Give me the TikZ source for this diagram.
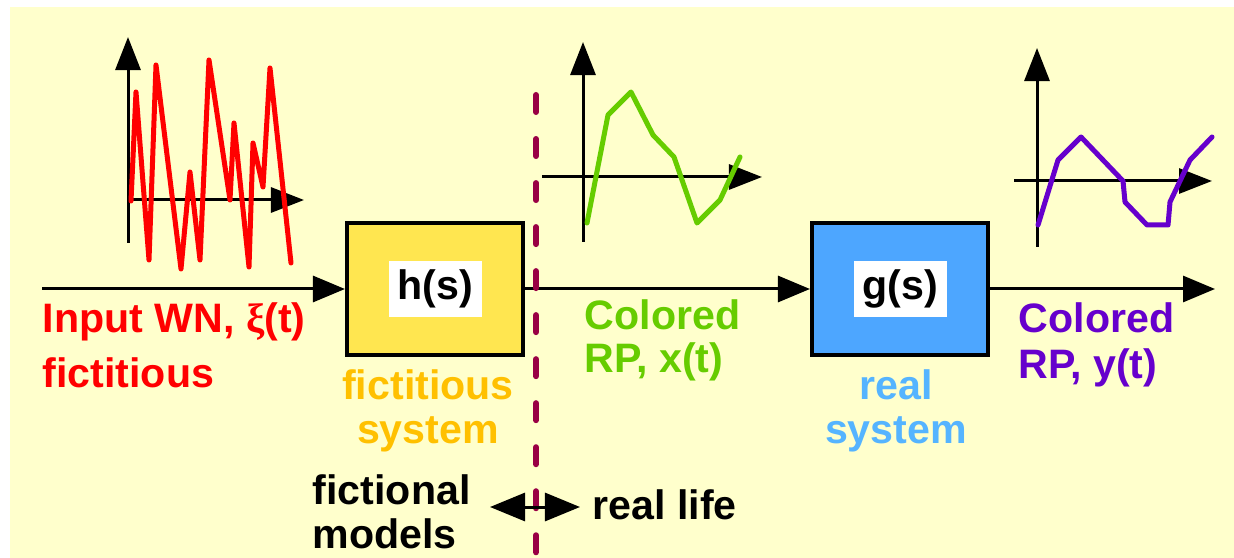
\documentclass[tikz,border=0pt]{standalone}
\usepackage{fontspec}
\setmainfont{Liberation Sans}
\newfontfamily\greekserif{Liberation Serif}
\usepackage{tikz}
\usetikzlibrary{arrows.meta,positioning}
\definecolor{paper}{RGB}{255,255,204}
\definecolor{noisered}{RGB}{255,0,0}
\definecolor{hyellow}{RGB}{255,230,80}
\definecolor{fictorange}{RGB}{255,192,0}
\definecolor{rpgreen}{RGB}{102,204,0}
\definecolor{gblue}{RGB}{77,166,255}
\definecolor{realblue}{RGB}{85,180,255}
\definecolor{rppurple}{RGB}{102,0,204}
\definecolor{cutred}{RGB}{153,0,68}

\begin{document}
\begin{tikzpicture}[
  x=0.01cm, y=-0.01cm,
  every node/.style={font=\fontsize{11.7}{12.3}\selectfont\bfseries, inner sep=0pt},
  axis/.style={line width=0.03cm, -{Triangle[length=0.33cm,width=0.25cm]}},
  flow/.style={line width=0.03cm, -{Triangle[length=0.32cm,width=0.26cm]}},
  wave/.style={line width=0.05cm, line join=round, line cap=round},
  sysbox/.style={draw, line width=0.04cm, minimum width=1.76cm, minimum height=1.32cm},
  cut/.style={draw=cutred, line width=0.06cm, line cap=round, dash pattern=on 0.17cm off 0.27cm}
]
  % page and background
  \useasboundingbox (0,0) rectangle (1234,558);
  \fill[paper] (10,7) rectangle (1234,558);

  % the two systems
  \setlength{\fboxsep}{2.5pt}
  \node[sysbox, fill=hyellow] (hsys) at (435,289) {\colorbox{white}{h(s)}};
  \node[sysbox, fill=gblue] (gsys) at (900,289) {\colorbox{white}{g(s)}};

  % signal flow
  \coordinate (in) at (42,289);
  \coordinate (out) at (1215,289);
  \draw[flow] (in) -- (hsys);
  \draw[flow] (hsys) -- (gsys);
  \draw[flow] (gsys) -- (out);

  % fiction / real life border
  \coordinate (cuttop) at (536,95);
  \coordinate (cutbot) at (536,556);
  \draw[cut] (cuttop) -- (cutbot);
  \coordinate (lifeL) at (490,507);
  \coordinate (lifeR) at (580,507);
  \draw[line width=0.03cm, {Triangle[length=0.35cm,width=0.28cm]}-{Triangle[length=0.35cm,width=0.28cm]}] (lifeL) -- (lifeR);

  % white noise sketch
  \draw[axis] (128,243) -- (128,37);
  \draw[axis] (128,200) -- (304,200);
  \draw[wave, noisered] (131,201) -- (136,92) -- (149,260) -- (156,65) -- (181,269) -- (190,172)
    -- (200,260) -- (209,60) -- (230,200) -- (234,123) -- (249,267) -- (253,143) -- (263,187)
    -- (270,68) -- (291,263);

  % x(t) sketch
  \draw[axis] (583,242) -- (583,42);
  \draw[axis] (542,177) -- (762,177);
  \draw[wave, rpgreen] (587,223) -- (608,115) -- (631,92) -- (653,135) -- (674,157) -- (697,223)
    -- (720,200) -- (740,157);

  % y(t) sketch
  \draw[axis] (1037,247) -- (1037,48);
  \draw[axis] (1014,181) -- (1212,181);
  \draw[wave, rppurple] (1038,225) -- (1058,160) -- (1081,137) -- (1123,181) -- (1125,202)
    -- (1147,225) -- (1168,225) -- (1170,202) -- (1190,160) -- (1212,137);

  % labels (base = last line)
  \node[anchor=base west, align=left, text=noisered, font=\fontsize{11.7}{15.6}\selectfont\bfseries] (wnlab) at (42,387) {Input WN, {\greekserif ξ}(t)\\fictitious};
  \node[anchor=base, align=center, text=fictorange] (hlab) at (428,443) {fictitious\\system};
  \node[anchor=base west, align=left, text=rpgreen] (xlab) at (584,373) {Colored\\RP, x(t)};
  \node[anchor=base, align=center, text=realblue] (glab) at (896,443) {real\\system};
  \node[anchor=base west, align=left, text=rppurple, font=\fontsize{11.7}{12.8}\selectfont\bfseries] (ylab) at (1018,378) {Colored\\RP, y(t)};
  \node[anchor=base west, align=left] (modlab) at (312,548) {fictional\\models};
  \node[anchor=base west] (lifelab) at (592,519) {real life};
\end{tikzpicture}
\end{document}
